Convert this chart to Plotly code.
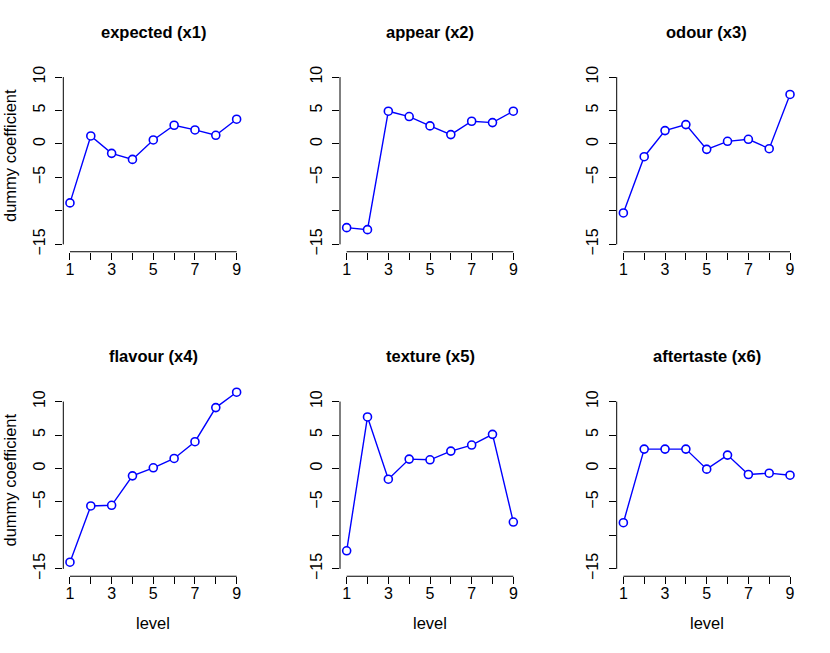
import plotly.graph_objects as go

# levels of each attribute
levels = [1, 2, 3, 4, 5, 6, 7, 8, 9]

# panel titles
titles = ["expected (x1)", "appear (x2)", "odour (x3)",
          "flavour (x4)", "texture (x5)", "aftertaste (x6)"]

# dummy coefficients per attribute
expected = [-8.8, 1.2, -1.4, -2.3, 0.6, 2.8, 2.1, 1.3, 3.7]
appear = [-12.5, -12.8, 4.9, 4.1, 2.7, 1.4, 3.4, 3.2, 4.9]
odour = [-10.3, -1.9, 2.0, 2.9, -0.8, 0.4, 0.7, -0.7, 7.4]
flavour = [-14.0, -5.6, -5.5, -1.1, 0.1, 1.5, 4.0, 9.1, 11.4]
texture = [-12.3, 7.7, -1.6, 1.4, 1.3, 2.6, 3.5, 5.1, -8.0]
aftertaste = [-8.1, 2.9, 2.9, 2.9, -0.1, 2.0, -0.9, -0.7, -1.0]

series = [expected, appear, odour, flavour, texture, aftertaste]

# axis ticks
y_ticks = [-15, -10, -5, 0, 5, 10]
y_ticktext = ["\u221215", "", "\u22125", "0", "5", "10"]
x_ticktext = ["1", "", "3", "", "5", "", "7", "", "9"]

W, H = 830, 653
FONT = "Liberation Sans, Arial, Helvetica, sans-serif"

fig = go.Figure()

# plot regions in pixels (left, top) -- R style mfrow(2, 3)
col_left = [63.3, 340.0, 616.7]
row_top = [60.7, 387.2]
reg_w, reg_h = 180.0, 192.6

for i, (vals, title) in enumerate(zip(series, titles)):
    r, c = divmod(i, 3)
    n = i + 1
    xa = "x" if n == 1 else f"x{n}"
    ya = "y" if n == 1 else f"y{n}"
    x0 = col_left[c] / W
    x1 = (col_left[c] + reg_w) / W
    y1 = 1 - row_top[r] / H
    y0 = 1 - (row_top[r] + reg_h) / H

    fig.add_trace(go.Scatter(
        x=levels, y=vals, mode="lines+markers",
        line=dict(color="blue", width=1.4),
        marker=dict(symbol="circle", size=8, color="white",
                    line=dict(color="blue", width=1.6)),
        xaxis=xa, yaxis=ya, showlegend=False, cliponaxis=False,
    ))

    axis_common = dict(
        showgrid=False, zeroline=False, showline=False,
        ticks="outside", ticklen=7, tickwidth=1, tickcolor="black",
        tickfont=dict(family=FONT, size=16, color="black"),
    )
    fig.layout[("xaxis" if n == 1 else f"xaxis{n}")] = dict(
        axis_common, domain=[x0, x1], anchor=ya,
        range=[levels[0] - 0.32, levels[-1] + 0.32],
        tickvals=levels, ticktext=x_ticktext, tickangle=0,
        ticklabelstandoff=-4,
    )
    fig.layout[("yaxis" if n == 1 else f"yaxis{n}")] = dict(
        axis_common, domain=[y0, y1], anchor=xa,
        range=[-16.1, 12.5],
        tickvals=y_ticks, ticktext=y_ticktext, tickangle=-90,
        ticklabelstandoff=4,
    )

    # R style axis lines: only from first to last tick
    fig.add_shape(type="line", xref=xa, yref=f"{ya} domain",
                  x0=levels[0], x1=levels[-1], y0=0, y1=0,
                  line=dict(color="black", width=1))
    fig.add_shape(type="line", xref=f"{xa} domain", yref=ya,
                  x0=0, x1=0, y0=y_ticks[0], y1=y_ticks[-1],
                  line=dict(color="black", width=1))

    # panel title
    fig.add_annotation(text=f"<b>{title}</b>", xref="paper", yref="paper",
                       x=(x0 + x1) / 2, y=1 - (32 + r * 326.5) / H,
                       showarrow=False, xanchor="center", yanchor="middle",
                       font=dict(family=FONT, size=16.5, color="black"))

    if c == 0:
        fig.add_annotation(text="dummy coefficient", xref="paper", yref="paper",
                           x=10 / W, y=(y0 + y1) / 2, textangle=-90,
                           showarrow=False, xanchor="center", yanchor="middle",
                           font=dict(family=FONT, size=16.5, color="black"))
    if r == 1:
        fig.add_annotation(text="level", xref="paper", yref="paper",
                           x=(x0 + x1) / 2, y=1 - 627 / H,
                           showarrow=False, xanchor="center", yanchor="middle",
                           font=dict(family=FONT, size=16.5, color="black"))

fig.update_layout(
    width=W, height=H,
    margin=dict(l=0, r=0, t=0, b=0),
    paper_bgcolor="white", plot_bgcolor="white",
    font=dict(family=FONT, color="black"),
)

# drop the default page margin so the figure sits at the window corner
fig.write_html("out.html", config={"displayModeBar": False},
               post_script="document.body.style.margin='0';")
